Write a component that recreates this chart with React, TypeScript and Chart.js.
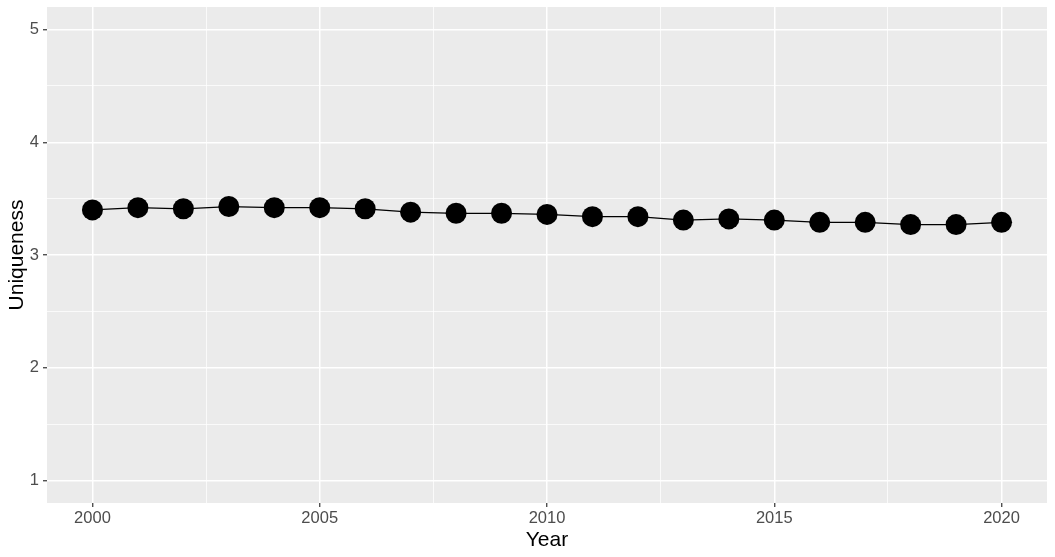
import React, { useEffect, useRef } from "react";
import { Chart, registerables } from "chart.js";

Chart.register(...registerables);

const years = [2000, 2001, 2002, 2003, 2004, 2005, 2006, 2007, 2008, 2009, 2010, 2011, 2012, 2013, 2014, 2015, 2016, 2017, 2018, 2019, 2020];
const uniqueness = [3.40, 3.42, 3.41, 3.43, 3.42, 3.42, 3.41, 3.38, 3.37, 3.37, 3.36, 3.34, 3.34, 3.31, 3.32, 3.31, 3.29, 3.29, 3.27, 3.27, 3.29];

const xMajorTicks = [2000, 2005, 2010, 2015, 2020];
const xMinorTicks = [2002.5, 2007.5, 2012.5, 2017.5];
const yMajorTicks = [1, 2, 3, 4, 5];
const yMinorTicks = [1.5, 2.5, 3.5, 4.5];

const FONT = "'Liberation Sans', Arial, Helvetica, sans-serif";

const panelBg = {
  id: "panelBg",
  beforeDraw(chart: any) {
    const { ctx, chartArea } = chart;
    ctx.save();
    ctx.fillStyle = "#EBEBEB";
    ctx.fillRect(chartArea.left, chartArea.top, chartArea.right - chartArea.left, chartArea.bottom - chartArea.top);
    ctx.restore();
  },
};

const noPadding = () => ({ left: 0, top: 0, right: 0, bottom: 0 });

export default function App() {
  const ref = useRef<HTMLCanvasElement | null>(null);

  useEffect(() => {
    if (!ref.current) return;
    const isMajor = (list: number[], v: number) => list.some((m) => Math.abs(m - v) < 1e-9);
    const chart = new Chart(ref.current, {
      type: "line",
      data: {
        datasets: [
          {
            data: years.map((y, i) => ({ x: y, y: uniqueness[i] })),
            borderColor: "#000000",
            borderWidth: 1.2,
            backgroundColor: "#000000",
            pointRadius: 10.5,
            pointHoverRadius: 10.5,
            pointBorderWidth: 0,
            pointBackgroundColor: "#000000",
            tension: 0,
          },
        ],
      },
      options: {
        animation: false,
        responsive: false,
        maintainAspectRatio: false,
        layout: { autoPadding: false, padding: { top: 7, right: 8, left: 0, bottom: 0 } },
        plugins: {
          legend: { display: false },
          tooltip: { enabled: false },
        },
        scales: {
          x: {
            type: "linear",
            min: 1999,
            max: 2021,
            afterBuildTicks: (scale: any) => {
              scale.ticks = [...xMajorTicks, ...xMinorTicks].sort((a, b) => a - b).map((v) => ({ value: v }));
            },
            afterFit: (scale: any) => {
              scale.height = 54;
              scale.paddingLeft = 0;
              scale.paddingRight = 0;
              scale.getPadding = noPadding;
            },
            border: { display: false },
            grid: {
              drawTicks: true,
              tickLength: 4,
              color: "#FFFFFF",
              lineWidth: (c: any) => (isMajor(xMajorTicks, c.tick?.value) ? 1.5 : 0.75),
              tickColor: (c: any) => (isMajor(xMajorTicks, c.tick?.value) ? "#333333" : "rgba(0,0,0,0)"),
              tickWidth: 1.2,
            },
            ticks: {
              padding: 2,
              color: "#4D4D4D",
              font: { family: FONT, size: 16.5 },
              maxRotation: 0,
              autoSkip: false,
              callback: (v: any) => (isMajor(xMajorTicks, Number(v)) ? String(v) : ""),
            },
            title: {
              display: true,
              text: "Year",
              color: "#000000",
              font: { family: FONT, size: 21 },
              padding: { top: 0, bottom: 4 },
            },
          },
          y: {
            type: "linear",
            min: 0.8,
            max: 5.2,
            afterBuildTicks: (scale: any) => {
              scale.ticks = [...yMajorTicks, ...yMinorTicks].sort((a, b) => a - b).map((v) => ({ value: v }));
            },
            afterFit: (scale: any) => {
              scale.width = 47;
              scale.paddingTop = 0;
              scale.paddingBottom = 0;
              scale.getPadding = noPadding;
            },
            border: { display: false },
            grid: {
              drawTicks: true,
              tickLength: 4,
              color: "#FFFFFF",
              lineWidth: (c: any) => (isMajor(yMajorTicks, c.tick?.value) ? 1.5 : 0.75),
              tickColor: (c: any) => (isMajor(yMajorTicks, c.tick?.value) ? "#333333" : "rgba(0,0,0,0)"),
              tickWidth: 1.2,
            },
            ticks: {
              padding: 4,
              color: "#4D4D4D",
              font: { family: FONT, size: 16.5 },
              autoSkip: false,
              callback: (v: any) => (isMajor(yMajorTicks, Number(v)) ? String(v) : ""),
            },
            title: {
              display: true,
              text: "Uniqueness",
              color: "#000000",
              font: { family: FONT, size: 21 },
              padding: { top: 5, bottom: 0 },
            },
          },
        },
      },
      plugins: [panelBg],
    });
    return () => chart.destroy();
  }, []);

  return (
    <div style={{ position: "absolute", left: 0, top: 0, width: 1055, height: 557, background: "#FFFFFF" }}>
      <canvas ref={ref} width={1055} height={557} style={{ display: "block", width: 1055, height: 557 }} />
    </div>
  );
}
